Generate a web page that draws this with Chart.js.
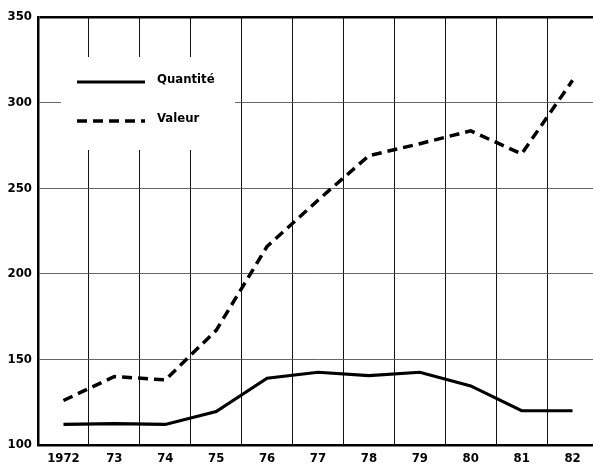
<!DOCTYPE html>
<html>
<head>
<meta charset="utf-8">
<script src="https://cdn.jsdelivr.net/npm/chart.js@4.4.1/dist/chart.umd.min.js"></script>
<style>
  html, body { margin: 0; padding: 0; background: #fff; overflow: hidden; }
  #wrap { width: 598px; height: 467px; position: relative; }
</style>
</head>
<body>
<div id="wrap"><canvas id="chart"></canvas></div>
<script>
// values
const years = ['1972', '73', '74', '75', '76', '77', '78', '79', '80', '81', '82'];
const quantite = [112, 112.5, 112, 119.5, 139, 142.5, 140.5, 142.5, 134.5, 120, 120];
const valeur = [126, 140, 138, 167, 216, 243, 269, 276, 283.5, 270, 313];
const yTicks = [100, 150, 200, 250, 300, 350];

const FONT = '"Liberation Sans Narrow", "DejaVu Sans Condensed", "Roboto Condensed", sans-serif';

// legend drawn inside the plot, on a white patch that hides the grid
const insideLegend = {
    id: 'insideLegend',
    afterDraw(chart) {
        const ctx = chart.ctx;
        const a = chart.chartArea;
        const x0 = a.left + 23, y0 = a.top + 40;
        ctx.save();
        ctx.fillStyle = '#fff';
        ctx.fillRect(x0, y0, 174, 93);
        chart.data.datasets.forEach((ds, i) => {
            const y = y0 + 25 + i * 39;
            ctx.beginPath();
            ctx.strokeStyle = ds.borderColor;
            ctx.lineWidth = ds.borderWidth;
            ctx.setLineDash(ds.borderDash || []);
            ctx.moveTo(x0 + 16, y);
            ctx.lineTo(x0 + 84, y);
            ctx.stroke();
            ctx.setLineDash([]);
            ctx.fillStyle = '#000';
            ctx.font = 'bold 13px ' + FONT;
            ctx.textBaseline = 'middle';
            ctx.fillText(ds.label, x0 + 96, y - 2);
        });
        ctx.restore();
    }
};

new Chart(document.getElementById('chart'), {
    type: 'line',
    data: {
        labels: years,
        datasets: [
            {
                label: 'Quantité',
                data: quantite,
                borderColor: '#000', borderWidth: 3.2,
                pointRadius: 0, tension: 0, fill: false
            },
            {
                label: 'Valeur',
                data: valeur,
                borderColor: '#000', borderWidth: 3.5, borderDash: [10, 6],
                pointRadius: 0, tension: 0, fill: false
            }
        ]
    },
    options: {
        responsive: true, maintainAspectRatio: false, animation: false,
        layout: { padding: { top: 17, right: 0, left: 0, bottom: 0 } },
        plugins: { legend: { display: false }, tooltip: { enabled: false } },
        scales: {
            x: {
                type: 'category', offset: true,
                grid: { offset: true, color: '#111', lineWidth: 1, drawTicks: false },
                border: { display: true, color: '#000', width: 2.5 },
                ticks: { color: '#000', font: { family: FONT, size: 13, weight: 'bold' }, padding: 6, autoSkip: false, maxRotation: 0 },
                afterFit: s => { s.height = 22; }
            },
            y: {
                min: 100, max: 350,
                afterBuildTicks: s => { s.ticks = yTicks.map(v => ({ value: v })); },
                grid: {
                    drawTicks: false,
                    color: c => c.tick.value === 350 ? '#000' : '#555',
                    lineWidth: c => c.tick.value === 350 ? 2.5 : 0.9
                },
                border: { display: true, color: '#000', width: 2.5 },
                ticks: { color: '#000', font: { family: FONT, size: 13, weight: 'bold' }, padding: 6 },
                afterFit: s => { s.width = 38; }
            }
        }
    },
    plugins: [insideLegend]
});
</script>
</body>
</html>
